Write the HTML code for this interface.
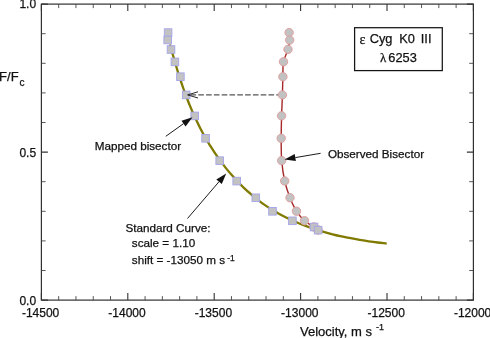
<!DOCTYPE html>
<html><head><meta charset="utf-8"><title>Bisector mapping</title>
<style>html,body{margin:0;padding:0;background:#fff;}svg{display:block;will-change:transform;}text{font-family:"Liberation Sans",Arial,sans-serif;fill:#111;stroke:#111;stroke-width:0.25px;}.gr{font-family:"Liberation Serif","DejaVu Serif",serif;}</style>
</head><body>
<svg width="490" height="338" viewBox="0 0 490 338">
<rect width="490" height="338" fill="#fff"/>
<g stroke="#303030" stroke-width="1.2" fill="none">
<rect x="41.4" y="4.1" width="432.00" height="296.00"/>
<path stroke-width="0.9" stroke="#444" d="M58.68 300.1v-4M58.68 4.1v4M75.96 300.1v-4M75.96 4.1v4M93.24 300.1v-4M93.24 4.1v4M110.52 300.1v-4M110.52 4.1v4M145.08 300.1v-4M145.08 4.1v4M162.36 300.1v-4M162.36 4.1v4M179.64 300.1v-4M179.64 4.1v4M196.92 300.1v-4M196.92 4.1v4M231.48 300.1v-4M231.48 4.1v4M248.76 300.1v-4M248.76 4.1v4M266.04 300.1v-4M266.04 4.1v4M283.32 300.1v-4M283.32 4.1v4M317.88 300.1v-4M317.88 4.1v4M335.16 300.1v-4M335.16 4.1v4M352.44 300.1v-4M352.44 4.1v4M369.72 300.1v-4M369.72 4.1v4M404.28 300.1v-4M404.28 4.1v4M421.56 300.1v-4M421.56 4.1v4M438.84 300.1v-4M438.84 4.1v4M456.12 300.1v-4M456.12 4.1v4M41.4 270.50h4.2M473.4 270.50h-4.2M41.4 240.90h4.2M473.4 240.90h-4.2M41.4 211.30h4.2M473.4 211.30h-4.2M41.4 181.70h4.2M473.4 181.70h-4.2M41.4 122.50h4.2M473.4 122.50h-4.2M41.4 92.90h4.2M473.4 92.90h-4.2M41.4 63.30h4.2M473.4 63.30h-4.2M41.4 33.70h4.2M473.4 33.70h-4.2"/>
<path stroke-width="1.1" stroke="#333" d="M41.40 300.1v-7M41.40 4.1v7M127.80 300.1v-7M127.80 4.1v7M214.20 300.1v-7M214.20 4.1v7M300.60 300.1v-7M300.60 4.1v7M387.00 300.1v-7M387.00 4.1v7M473.40 300.1v-7M473.40 4.1v7M41.4 300.10h6.5M473.4 300.10h-6.5M41.4 152.10h6.5M473.4 152.10h-6.5M41.4 4.10h6.5M473.4 4.10h-6.5"/>
</g>
<g>
<g font-size="12px" text-anchor="middle">
<text x="40.60" y="316.7">-14500</text>
<text x="127.00" y="316.7">-14000</text>
<text x="213.40" y="316.7">-13500</text>
<text x="299.80" y="316.7">-13000</text>
<text x="386.20" y="316.7">-12500</text>
<text x="472.60" y="316.7">-12000</text>
</g>
<g font-size="12px" text-anchor="end">
<text x="36.1" y="8.4">1.0</text>
<text x="36.1" y="156.9">0.5</text>
<text x="36.1" y="305.3">0.0</text>
</g>
<text x="-0.9" y="80.8" font-size="13px">F/F<tspan dy="5" font-size="10px" dx="1">c</tspan></text>
<text x="300" y="335.5" font-size="13px">Velocity, m s<tspan dy="-5.5" dx="4" font-size="9px">-1</tspan></text>
<path d="M170.0 44.5C170.4 46.0 171.6 50.3 172.4 53.2C173.2 56.1 174.1 59.0 174.9 61.9C175.8 64.8 176.6 67.7 177.5 70.6C178.4 73.5 179.4 76.4 180.3 79.3C181.2 82.2 182.2 85.1 183.2 88.0C184.2 90.9 185.3 93.8 186.4 96.7C187.5 99.6 188.5 102.4 189.7 105.2C190.8 108.0 192.1 110.9 193.3 113.7C194.6 116.5 195.9 119.3 197.2 122.1C198.5 124.9 199.9 127.6 201.3 130.3C202.7 133.0 204.3 135.8 205.8 138.4C207.3 141.1 208.9 143.6 210.5 146.2C212.1 148.8 213.8 151.4 215.5 153.9C217.2 156.4 219.0 159.0 220.8 161.4C222.6 163.8 224.4 166.2 226.3 168.6C228.2 171.0 230.2 173.3 232.2 175.6C234.2 177.9 236.2 180.0 238.3 182.2C240.4 184.4 242.5 186.5 244.7 188.6C246.9 190.7 249.1 192.6 251.4 194.6C253.7 196.6 256.0 198.5 258.4 200.3C260.8 202.1 263.2 203.9 265.7 205.6C268.2 207.3 270.7 208.9 273.3 210.5C275.9 212.1 278.5 213.5 281.2 214.9C283.9 216.3 286.6 217.7 289.3 219.0C292.0 220.3 294.8 221.6 297.6 222.8C300.4 224.0 303.3 225.1 306.2 226.1C309.1 227.1 312.0 228.1 314.9 229.1C317.8 230.1 320.8 231.0 323.7 231.9C326.6 232.8 329.6 233.6 332.6 234.3C335.6 235.1 338.6 235.8 341.6 236.4C344.6 237.1 347.7 237.6 350.7 238.2C353.7 238.8 356.7 239.4 359.7 239.9C362.7 240.4 365.7 240.9 368.7 241.3C371.7 241.7 374.7 242.1 377.7 242.5C380.7 242.9 385.2 243.4 386.7 243.6" fill="none" stroke="#807a00" stroke-width="2.3" stroke-linecap="butt"/>
<path d="M289.1 32.6C289.2 33.9 289.9 37.3 289.7 40.1C289.5 42.9 289.0 45.8 288.0 49.4C287.0 53.0 284.4 57.2 283.5 61.8C282.6 66.3 283.1 71.2 282.9 76.7C282.7 82.2 282.6 88.4 282.4 94.9C282.2 101.4 281.8 108.6 281.6 115.8C281.4 123.0 281.2 130.8 281.2 138.3C281.2 145.8 281.1 153.5 281.7 160.6C282.3 167.7 283.3 174.8 284.7 181.0C286.1 187.2 288.0 192.7 290.0 197.7C292.0 202.7 294.1 207.4 296.5 211.2C298.9 215.0 301.6 218.1 304.5 220.7C307.4 223.3 311.6 225.3 313.9 226.9C316.1 228.5 317.3 229.5 318.0 230.0" fill="none" stroke="#a62828" stroke-width="1.4"/>
<path d="M190.5 94.9H281" stroke="#555" stroke-width="1.3" stroke-dasharray="5.6 2.2" fill="none"/>
<g fill="#c2c2c2" stroke="#e09a9a" stroke-width="0.9">
<circle cx="289.1" cy="32.6" r="4.2"/>
<circle cx="289.7" cy="40.1" r="4.2"/>
<circle cx="288.0" cy="49.4" r="4.2"/>
<circle cx="283.5" cy="61.8" r="4.2"/>
<circle cx="282.9" cy="76.7" r="4.2"/>
<circle cx="282.4" cy="94.9" r="4.2"/>
<circle cx="281.6" cy="115.8" r="4.2"/>
<circle cx="281.2" cy="138.3" r="4.2"/>
<circle cx="281.7" cy="160.6" r="4.2"/>
<circle cx="284.7" cy="181.0" r="4.2"/>
<circle cx="290.0" cy="197.7" r="4.2"/>
<circle cx="296.5" cy="211.2" r="4.2"/>
<circle cx="304.5" cy="220.7" r="4.2"/>
<circle cx="313.9" cy="226.9" r="4.2"/>
<circle cx="318.0" cy="230.0" r="4.2"/>
</g>
<g fill="#c2c2c2" stroke="#a4a4ea" stroke-width="0.9">
<rect x="164.3" y="28.8" width="7.6" height="7.6"/>
<rect x="163.9" y="36.2" width="7.6" height="7.6"/>
<rect x="167.2" y="45.7" width="7.6" height="7.6"/>
<rect x="171.1" y="58.1" width="7.6" height="7.6"/>
<rect x="176.6" y="72.9" width="7.6" height="7.6"/>
<rect x="182.4" y="91.1" width="7.6" height="7.6"/>
<rect x="190.9" y="112.1" width="7.6" height="7.6"/>
<rect x="201.8" y="134.5" width="7.6" height="7.6"/>
<rect x="215.9" y="156.9" width="7.6" height="7.6"/>
<rect x="232.9" y="177.3" width="7.6" height="7.6"/>
<rect x="252.0" y="194.0" width="7.6" height="7.6"/>
<rect x="268.7" y="207.5" width="7.6" height="7.6"/>
<rect x="288.6" y="217.0" width="7.6" height="7.6"/>
<rect x="310.2" y="223.2" width="7.6" height="7.6"/>
<rect x="314.3" y="226.3" width="7.6" height="7.6"/>
</g>
<path d="M198 91.8L187.6 94.9L198 98" fill="none" stroke="#111" stroke-width="0.9"/>
<path d="M165.8 136.3L183.6 123.6" stroke="#111" stroke-width="0.95" fill="none"/><path d="M192.5 117.2L185.6 126.5L181.5 120.7Z" fill="#111"/>
<path d="M187.5 218.5L219.0 181.7" stroke="#111" stroke-width="0.95" fill="none"/><path d="M226.2 173.4L221.8 184.1L216.3 179.4Z" fill="#111"/>
<path d="M320.6 153.3L295.3 157.6" stroke="#111" stroke-width="0.95" fill="none"/><path d="M284.5 159.4L294.7 154.0L295.9 161.1Z" fill="#111"/>
<g font-size="11.7px">
<text x="94.7" y="150.3">Mapped bisector</text>
<text x="327.9" y="157.7">Observed Bisector</text>
<text x="125.4" y="232.2">Standard Curve:</text>
<text x="131.8" y="247">scale = 1.10</text>
<text x="131.8" y="264">shift = -13050 m s<tspan dy="-2.6" dx="2.2" font-size="8.5px">-1</tspan></text>
</g>
<rect x="354.6" y="27.7" width="87.7" height="42.9" fill="#fff" stroke="#151515" stroke-width="1.25"/>
<g font-size="12.8px">
<text x="359.6" y="43.8" class="gr" font-size="14px">ε</text>
<text x="369.7" y="43.3">Cyg</text>
<text x="399.3" y="43.3">K0</text>
<text x="420.8" y="43.3">III</text>
<text x="380" y="62" class="gr">λ</text>
<text x="388.3" y="62">6253</text>
</g>
</g>
</svg></body></html>
